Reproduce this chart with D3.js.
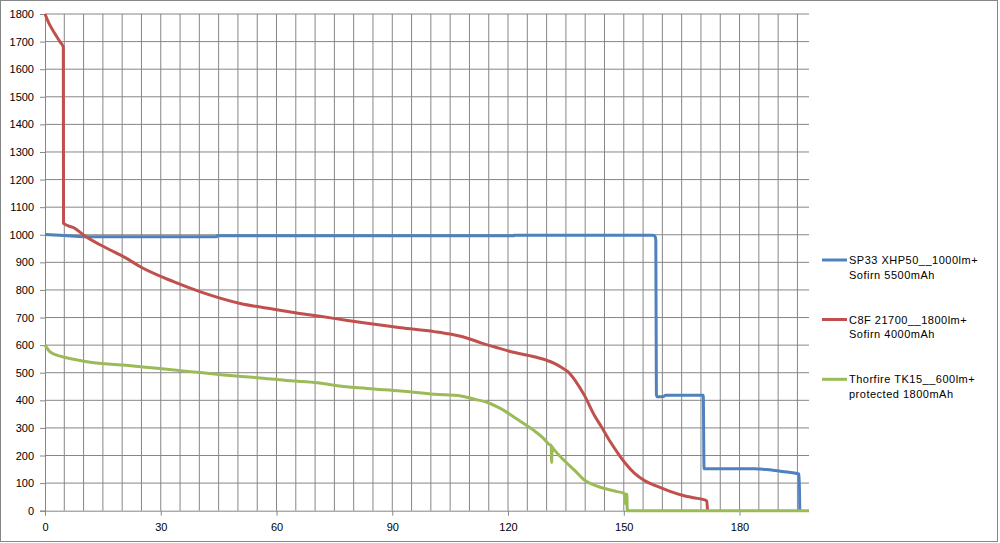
<!DOCTYPE html>
<html>
<head>
<meta charset="utf-8">
<script src="https://cdn.jsdelivr.net/npm/d3@7"></script>
<style>
  html, body { margin: 0; padding: 0; background: #fff; }
  svg { display: block; }
  text { font-family: "Liberation Sans", Arial, sans-serif; font-size: 11px; fill: #000; }
</style>
</head>
<body>
<svg id="chart" width="1000" height="543"></svg>
<script>
// ---- data (x = minutes, y = lumens) ----
const seriesNames = ["SP33 XHP50__1000lm+|Sofirn 5500mAh", "C8F 21700__1800lm+|Sofirn 4000mAh", "Thorfire TK15__600lm+|protected 1800mAh"];
const seriesColors = ["#4F81BD", "#C0504D", "#9BBB59"];
const xTickLabels = [0, 30, 60, 90, 120, 150, 180];
const yTickLabels = [0,100,200,300,400,500,600,700,800,900,1000,1100,1200,1300,1400,1500,1600,1700,1800];

const sp33 = [[0,1001],[5,997],[10,993],[44.5,993],[44.6,996],[121.5,996],[121.6,998],[157.6,998],[158.1,994],[158.3,980],[158.45,420],[158.7,413],[160.3,414],[160.8,418],[170.6,418],[170.8,152],[184,152],[187,149],[191,142],[195.5,132],[195.6,0]];

const c8f = [[0,1800],[1,1767],[2.5,1730],[3.9,1699],[4.75,1680],[4.8,1041],[7.8,1023],[10,999],[16,951],[20.8,917],[24.7,884],[33.3,830],[40.3,793],[50.6,751],[59.3,730],[66,715],[74.9,697],[83.5,679],[92.2,663],[100.9,649],[105,640],[109.5,625],[113,608],[116.4,594],[120.8,576],[126.8,558],[130,545],[132,534],[134,518],[135.5,504],[137.5,470],[139.8,418],[142.4,345],[144.2,304],[146.5,250],[148.5,208],[150.5,170],[152.8,135],[155.5,108],[158.9,87],[162,70],[164.9,57],[168,47],[171,39],[171.5,35],[171.7,0]];

const tk15 = [[0,600],[1.3,576],[3.9,560],[7.4,549],[11.7,538],[20.3,528],[29,516],[37.7,504],[46.3,492],[55,482],[63.6,471],[70.6,464],[74.9,455],[83.5,443],[92.2,434],[100.9,422],[107.8,416],[111.3,404],[114.5,393],[118,371],[122,335],[126.6,292],[129,265],[130.9,238],[131.2,236],[131.3,175],[131.45,232],[131.6,228],[133,205],[135.3,172],[137.2,147],[139.6,113],[141.6,97],[143.9,85],[146,77],[148,70],[150,63],[150.3,60],[150.4,25],[150.55,58],[150.8,60],[150.9,0],[198,0]];

const allSeries = [sp33, c8f, tk15];

// ---- layout ----
const svg = d3.select("#chart");
const x = d3.scaleLinear().domain([0, 198]).range([45, 809]);
const y = d3.scaleLinear().domain([0, 1800]).range([510.7, 14]);

// outer border
svg.append("rect").attr("x", 0.5).attr("y", 0.5).attr("width", 997).attr("height", 541)
  .attr("fill", "#fff").attr("stroke", "#868686").attr("stroke-width", 1);

// gridlines
const g = svg.append("g");
const vTicks = d3.range(5, 196, 5);
g.selectAll("line.v").data(vTicks).join("line")
  .attr("x1", d => x(d)).attr("x2", d => x(d))
  .attr("y1", y(1800)).attr("y2", y(0))
  .attr("stroke", "#868686").attr("stroke-width", 1);
g.selectAll("line.h").data(yTickLabels.slice(1)).join("line")
  .attr("x1", x(0)).attr("x2", 809)
  .attr("y1", d => y(d)).attr("y2", d => y(d))
  .attr("stroke", "#868686").attr("stroke-width", 1);

// axes
const yAxis = d3.axisLeft(y).tickValues(yTickLabels).tickSize(5).tickPadding(6).tickFormat(d3.format("d"));
const yg = svg.append("g").attr("transform", `translate(${x(0)},0)`).call(yAxis);
yg.select(".domain").attr("stroke", "#868686");
yg.selectAll(".tick line").attr("stroke", "#868686");
yg.selectAll("text").style("font-family", "'Liberation Sans', Arial, sans-serif").style("font-size", "11px").attr("fill", "#000");

const xAxis = d3.axisBottom(x).tickValues(xTickLabels).tickSize(5).tickPadding(8).tickFormat(d3.format("d"));
const xg = svg.append("g").attr("transform", `translate(0,${y(0)})`).call(xAxis);
xg.select(".domain").attr("d", `M${x(0)},0.5H809`).attr("stroke", "#868686");
xg.selectAll(".tick line").attr("stroke", "#868686");
xg.selectAll("text").style("font-family", "'Liberation Sans', Arial, sans-serif").style("font-size", "11px").attr("fill", "#000");

// lines
const line = d3.line().x(d => x(d[0])).y(d => y(d[1])).curve(d3.curveMonotoneX);
svg.append("g").selectAll("path").data(allSeries).join("path")
  .attr("d", line)
  .attr("fill", "none")
  .attr("stroke", (d, i) => seriesColors[i])
  .attr("stroke-width", 3)
  .attr("stroke-linejoin", "round")
  .attr("stroke-linecap", "butt");

// legend
const legendY = [260, 319.5, 379.3];
const lg = svg.append("g");
seriesNames.forEach((name, i) => {
  lg.append("line").attr("x1", 822).attr("x2", 847).attr("y1", legendY[i]).attr("y2", legendY[i])
    .attr("stroke", seriesColors[i]).attr("stroke-width", 3);
  const parts = name.split("|");
  parts.forEach((p, j) => {
    lg.append("text").attr("x", 849).attr("y", legendY[i] + 4 + j * 14.5)
      .style("letter-spacing", "0.5px").text(p);
  });
});
</script>
</body>
</html>
